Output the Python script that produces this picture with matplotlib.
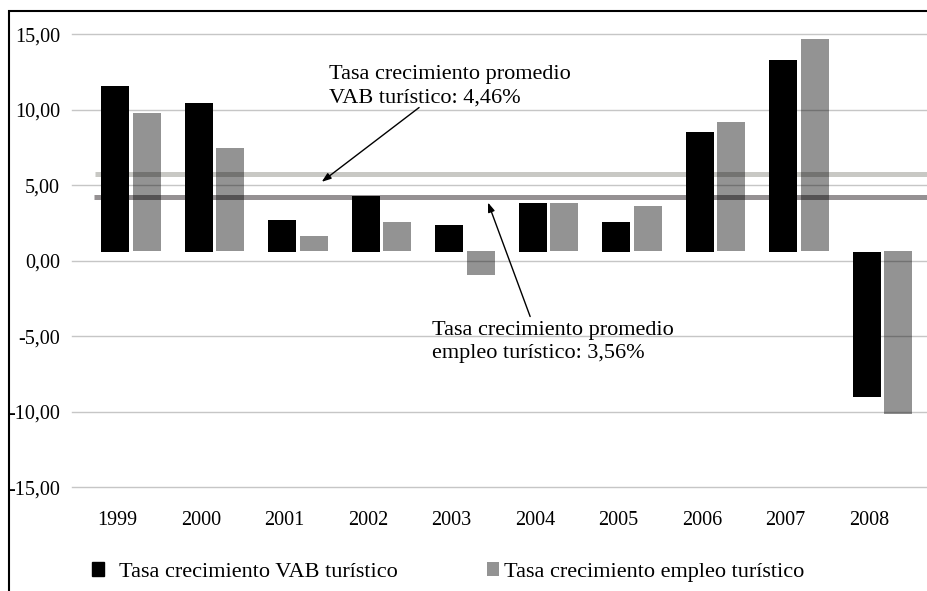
import matplotlib
matplotlib.use("Agg")
import matplotlib.pyplot as plt
import matplotlib.transforms as mtransforms
from matplotlib.patches import Rectangle
import numpy as np

plt.rcParams['font.family'] = ['Liberation Serif', 'DejaVu Serif']

years = ['1999', '2000', '2001', '2002', '2003', '2004', '2005', '2006', '2007', '2008']
vab = [11.60, 10.48, 2.73, 4.26, 2.34, 3.86, 2.54, 8.56, 13.33, -9.03]
empleo = [9.82, 7.44, 1.61, 2.54, -0.95, 3.86, 3.66, 9.16, 14.66, -10.16]
base_vab = 0.55
base_empleo = 0.62
avg_vab_line = 5.73
avg_empleo_line = 4.21
yticks = [15, 10, 5, 0, -5, -10, -15]
label_vab = 'Tasa crecimiento VAB turístico'
label_emp = 'Tasa crecimiento empleo turístico'
note_vab = 'Tasa crecimiento promedio\nVAB turístico: 4,46%'
note_emp = 'Tasa crecimiento promedio\nempleo turístico: 3,56%'

W, H = 928, 591
fig = plt.figure(figsize=(W / 100, H / 100), dpi=100)
ax = fig.add_axes([72 / W, 1 - 487.3 / H, 1 - 72 / W, (487.3 - 34.3) / H])

x = np.arange(len(years))
bw = 0.335
off = 0.189
gray_alpha = 0.424

ax.set_xlim(-0.707, 9.545)
ax.set_ylim(-15, 15)

# average lines (behind bars)
ax.plot([-0.43, 9.545], [avg_vab_line] * 2, color='#c8c8c4', lw=3.6, zorder=2,
        solid_capstyle='butt')
ax.plot([-0.445, 9.545], [avg_empleo_line] * 2, color='#959193', lw=3.6, zorder=2,
        solid_capstyle='butt')

vab_h = [v - base_vab for v in vab]
emp_h = [v - base_empleo for v in empleo]
ax.bar(x - off, vab_h, width=bw, bottom=base_vab, color='black', zorder=3)
ax.bar(x + off, emp_h, width=bw, bottom=base_empleo, color='black', alpha=gray_alpha,
       zorder=3, linewidth=0)

ax.set_yticks(yticks)
ax.set_yticklabels([('%.2f' % v).replace('.', ',') for v in yticks])
ax.yaxis.grid(True, color='#c6c6c6', lw=1.0)
for gl in ax.get_ygridlines():
    gl.set_clip_on(False)
ax.set_axisbelow(True)
ax.tick_params(axis='y', length=0, pad=8.6, labelsize=14.5)
ax.set_xticks(x)
ax.set_xticklabels(years)
ax.tick_params(axis='x', length=0, pad=17, labelsize=14.5)
shift = mtransforms.ScaledTranslation(-13.5 / 100, 0, fig.dpi_scale_trans)
for lab in ax.get_xticklabels():
    lab.set_transform(lab.get_transform() + shift)
for s in ax.spines.values():
    s.set_visible(False)

# annotations
ax.text(2.371, 13.0, note_vab, fontsize=16, ha='left', va='top', zorder=5,
        linespacing=1.33)
ax.annotate('', xy=(2.284, 5.23), xytext=(3.45, 10.15),
            arrowprops=dict(arrowstyle='-|>,head_length=0.55,head_width=0.2',
                            color='black', lw=1.0, shrinkA=0, shrinkB=0), zorder=5)
ax.text(3.60, -3.96, note_emp, fontsize=16, ha='left', va='top', zorder=5,
        linespacing=1.33)
ax.annotate('', xy=(4.275, 3.86), xytext=(4.78, -3.69),
            arrowprops=dict(arrowstyle='-|>,head_length=0.55,head_width=0.2',
                            color='black', lw=1.0, shrinkA=0, shrinkB=0), zorder=5)

# legends
h1 = Rectangle((0, 0), 1, 1, color='black')
h2 = Rectangle((0, 0), 1, 1, color='black', alpha=gray_alpha, lw=0)
leg1 = fig.legend([h1], [label_vab], loc='center left',
                  bbox_to_anchor=(92 / W, 1 - 572 / H), frameon=False, fontsize=16,
                  handlelength=0.55, handleheight=0.55, handletextpad=0.68,
                  borderpad=0, borderaxespad=0)
leg2 = fig.legend([h2], [label_emp], loc='center left',
                  bbox_to_anchor=(487 / W, 1 - 572 / H), frameon=False, fontsize=16,
                  handlelength=0.55, handleheight=0.55, handletextpad=0.2,
                  borderpad=0, borderaxespad=0)

# outer frame
fig.patches.append(Rectangle((9 / W, -0.1), 1.2, 1.1 - 10.7 / H, transform=fig.transFigure,
                             fill=False, edgecolor='black', lw=1.5))

fig.savefig('out.png', dpi=100)
